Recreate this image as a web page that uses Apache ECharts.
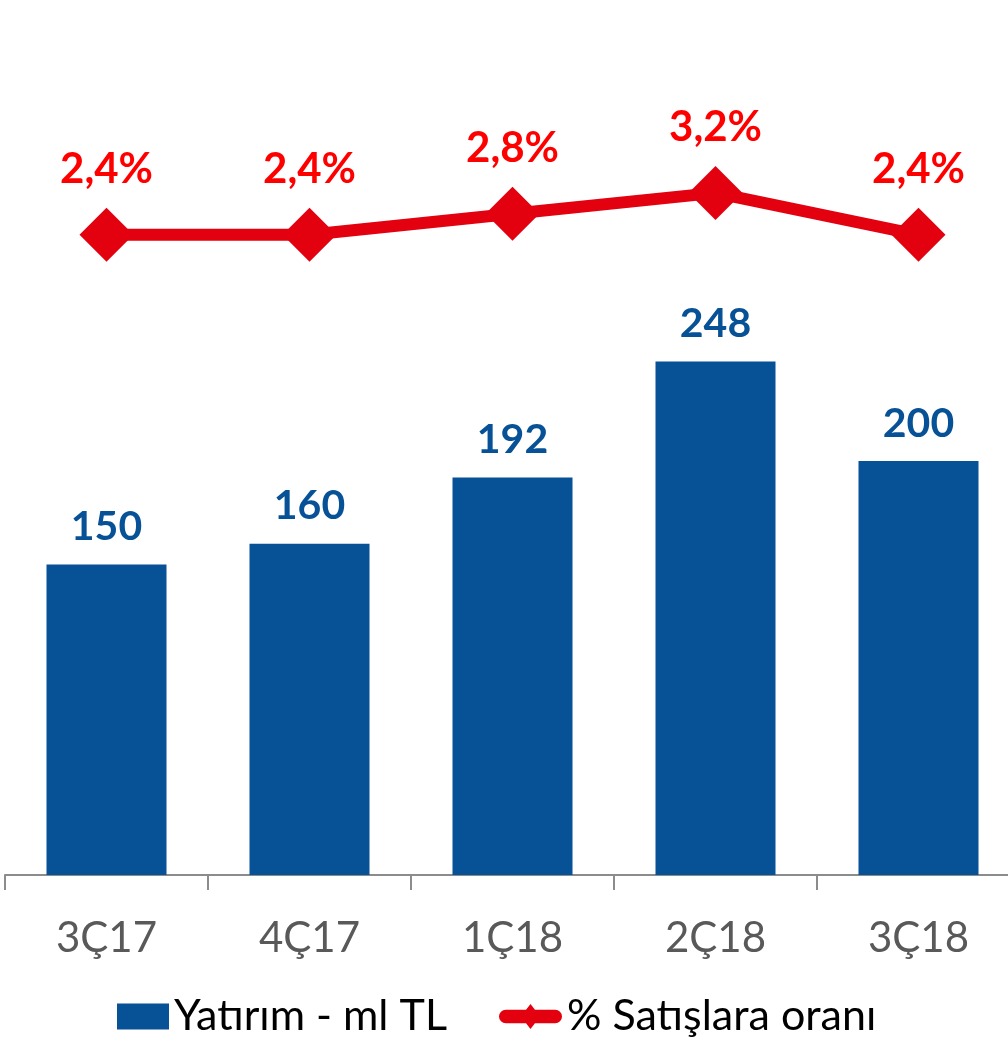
<!DOCTYPE html>
<html>
<head>
<meta charset="utf-8">
<script src="https://cdn.jsdelivr.net/npm/echarts@6/dist/echarts.min.js"></script>
<style>
  html, body { margin: 0; padding: 0; background: #fff; }
  #chart { width: 1008px; height: 1041px; }
</style>
</head>
<body>
<div id="chart"></div>
<script>
// kategoriler ve değerler
var categories = ['3Ç17', '4Ç17', '1Ç18', '2Ç18', '3Ç18'];
var yatirim = [150, 160, 192, 248, 200];
var satisOrani = [2.4, 2.4, 2.8, 3.2, 2.4];

var chart = echarts.init(document.getElementById('chart'));

// lejant için kalın çizgi + elmas simgesi
var lineIcon = 'path://M6,6 L57,6 A7,7 0 0 1 57,20 L6,20 A7,7 0 0 1 6,6 Z M31.5,0 L41.5,13 L31.5,26 L21.5,13 Z';

var option = {
    animation: false,
    textStyle: { fontFamily: 'Lato' },
    legend: [
        {
            left: 117,
            top: 995,
            padding: 0,
            itemWidth: 52,
            itemHeight: 26,
            textStyle: { fontSize: 43, color: '#000' },
            data: [{ name: 'Yatırım - ml TL', icon: 'rect' }]
        },
        {
            left: 499,
            top: 995,
            padding: 0,
            itemWidth: 63,
            itemHeight: 26,
            textStyle: { fontSize: 43, color: '#000' },
            data: [{ name: '% Satışlara oranı', icon: lineIcon, itemStyle: { color: '#e3000f' } }]
        }
    ],
    grid: { left: 5, width: 1015, top: 20, bottom: 166, outerBoundsMode: 'none' },
    xAxis: {
        type: 'category',
        data: categories,
        axisLine: { lineStyle: { color: '#8c8c8c', width: 2 } },
        axisTick: { show: true, length: 15, lineStyle: { color: '#8c8c8c', width: 2 } },
        axisLabel: { fontSize: 42, color: '#595959', margin: 42 }
    },
    yAxis: [
        { type: 'value', min: 0, max: 413, show: false },
        { type: 'value', min: -9.82, max: 6.5, show: false }
    ],
    series: [
        {
            name: 'Yatırım - ml TL',
            type: 'bar',
            data: yatirim,
            barWidth: 120,
            itemStyle: { color: '#075196' },
            label: {
                show: true,
                position: 'top',
                distance: 17,
                fontSize: 41,
                fontWeight: 'bold',
                color: '#075196'
            }
        },
        {
            name: '% Satışlara oranı',
            type: 'line',
            yAxisIndex: 1,
            data: satisOrani,
            symbol: 'diamond',
            symbolSize: 54,
            lineStyle: { color: '#e3000f', width: 12 },
            itemStyle: { color: '#e3000f' },
            label: {
                show: true,
                position: 'top',
                distance: 17,
                fontSize: 42,
                fontWeight: 'bold',
                color: '#ff0000',
                formatter: function (p) {
                    return p.value.toFixed(1).replace('.', ',') + '%';
                }
            }
        }
    ]
};

chart.setOption(option);
</script>
</body>
</html>
